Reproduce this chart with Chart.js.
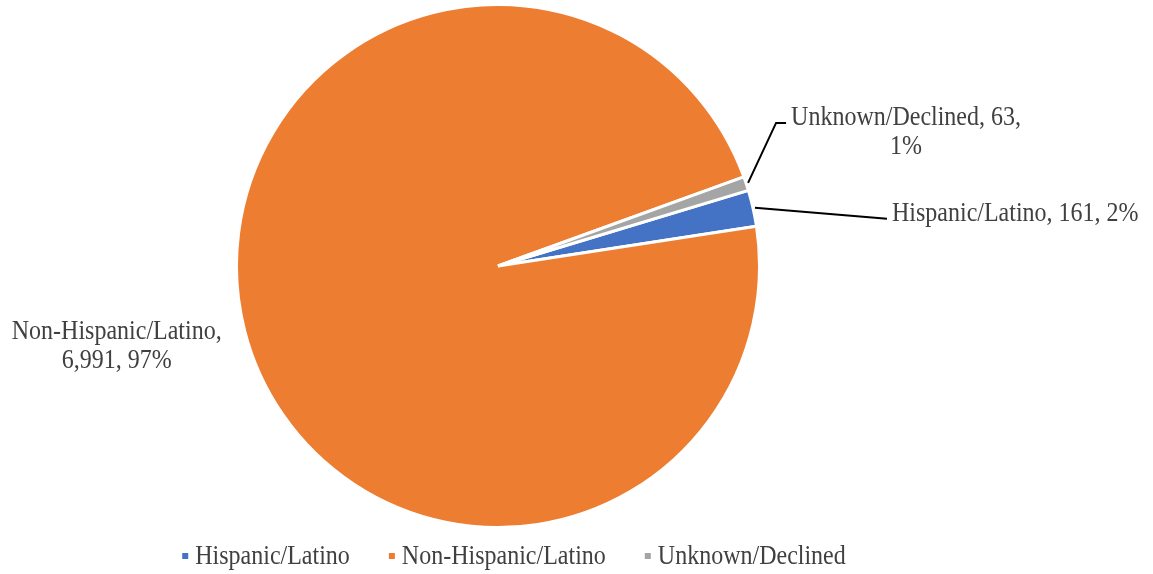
<!DOCTYPE html>
<html>
<head>
<meta charset="utf-8">
<script src="https://cdn.jsdelivr.net/npm/chart.js@4.4.0/dist/chart.umd.min.js"></script>
<style>
  html, body { margin: 0; padding: 0; background: #fff; }
  #wrap { width: 1153px; height: 574px; position: relative; }
</style>
</head>
<body>
<div id="wrap"><canvas id="pieChart"></canvas></div>
<script>
// Data
const categories = ["Hispanic/Latino", "Non-Hispanic/Latino", "Unknown/Declined"];
const counts = [161, 6991, 63];
const percentLabels = ["2%", "97%", "1%"];
const countLabels = ["161", "6,991", "63"];
const colors = ["#4472C4", "#ED7D31", "#A5A5A5"];

const textColor = "#404040";
const serif = "'Liberation Serif', 'Times New Roman', serif";
const stretch = 1.1; // text in the original is a bit taller than wide

// draw text with a slight vertical stretch, y is the baseline
function tallText(ctx, str, x, y) {
  ctx.save();
  ctx.translate(x, y);
  ctx.scale(1, stretch);
  ctx.fillText(str, 0, 0);
  ctx.restore();
}

// Data labels with leader lines + a bottom legend
const labelPlugin = {
  id: "pieLabels",
  afterDatasetsDraw(chart) {
    const ctx = chart.ctx;
    const meta = chart.getDatasetMeta(0);
    ctx.save();
    ctx.font = "24px " + serif;
    ctx.fillStyle = textColor;
    ctx.strokeStyle = "#000";
    ctx.lineWidth = 2;
    ctx.textBaseline = "alphabetic";

    let cx0 = 0;
    meta.data.forEach((arc, i) => {
      const { x, y, startAngle, endAngle, outerRadius } = arc.getProps(["x", "y", "startAngle", "endAngle", "outerRadius"], true);
      cx0 = x;
      const mid = (startAngle + endAngle) / 2;
      const ex = x + Math.cos(mid) * (outerRadius + 2);
      const ey = y + Math.sin(mid) * (outerRadius + 2);

      if (i === 0) {
        // Hispanic/Latino: straight leader to the right
        const lx = ex + 132, ly = ey + 11;
        ctx.beginPath();
        ctx.moveTo(ex, ey);
        ctx.lineTo(lx, ly);
        ctx.stroke();
        ctx.textAlign = "left";
        tallText(ctx, categories[i] + ", " + countLabels[i] + ", " + percentLabels[i], lx + 5, ly + 2);
      } else if (i === 2) {
        // Unknown/Declined: elbow leader up and right
        const bx = ex + 28, by = ey - 60;
        ctx.beginPath();
        ctx.moveTo(ex, ey);
        ctx.lineTo(bx, by);
        ctx.lineTo(bx + 10, by);
        ctx.stroke();
        ctx.textAlign = "left";
        const line1 = categories[i] + ", " + countLabels[i] + ",";
        tallText(ctx, line1, bx + 15, by + 2);
        const w = ctx.measureText(line1).width;
        ctx.textAlign = "center";
        tallText(ctx, percentLabels[i], bx + 15 + w / 2, by + 31);
      } else {
        // Non-Hispanic/Latino: two lines left of the pie, no leader
        ctx.textAlign = "center";
        const cx = ex - 126;
        tallText(ctx, categories[i] + ",", cx, ey + 8);
        tallText(ctx, countLabels[i] + ", " + percentLabels[i], cx, ey + 37);
      }
    });

    // legend: small squares with names, along the bottom
    ctx.textAlign = "left";
    const box = 6, gapText = 7, gapItem = 39;
    const widths = categories.map(c => ctx.measureText(c).width);
    const total = widths.reduce((a, b) => a + b, 0) + categories.length * (box + gapText) + gapItem * (categories.length - 1);
    let lx = cx0 + 16 - total / 2;
    const legY = 556;
    categories.forEach((c, i) => {
      ctx.fillStyle = colors[i];
      ctx.fillRect(lx, legY - box / 2, box, box);
      ctx.fillStyle = textColor;
      tallText(ctx, c, lx + box + gapText, legY + 8);
      lx += box + gapText + widths[i] + gapItem;
    });
    ctx.restore();
  }
};

new Chart(document.getElementById("pieChart"), {
  type: "pie",
  data: {
    labels: categories,
    datasets: [{
      data: counts,
      backgroundColor: colors,
      borderColor: "#ffffff",
      borderWidth: 3
    }]
  },
  options: {
    responsive: true,
    maintainAspectRatio: false,
    animation: false,
    rotation: 73.2,
    layout: { padding: { left: 0, right: 157, top: 3, bottom: 45 } },
    plugins: {
      legend: { display: false },
      tooltip: { enabled: false }
    }
  },
  plugins: [labelPlugin]
});
</script>
</body>
</html>
